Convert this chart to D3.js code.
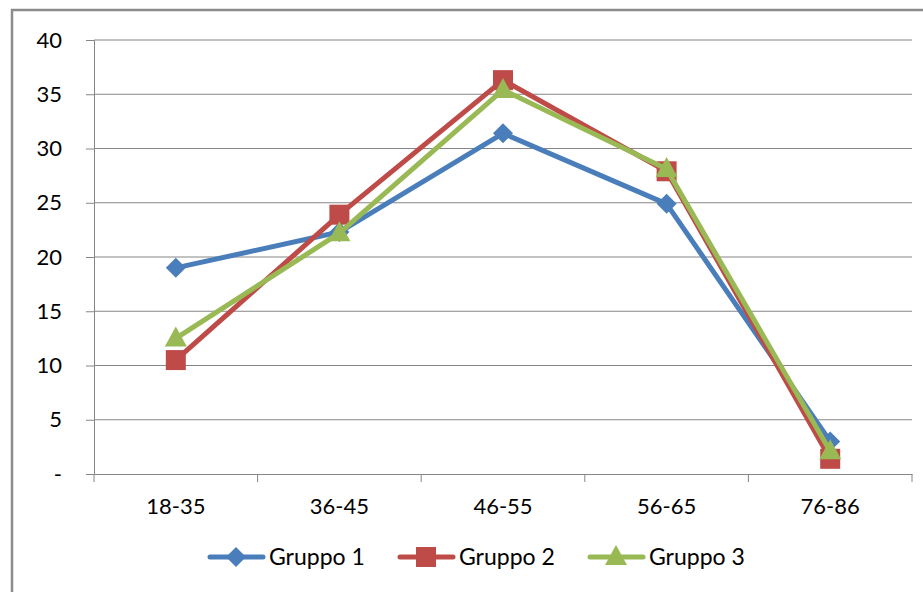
<!DOCTYPE html>
<meta charset="utf-8">
<html>
<head>
<script src="https://d3js.org/d3.v7.min.js"></script>
<style>
  body { margin: 0; background: #fff; }
  text { font-family: Lato, "Noto Sans", sans-serif; fill: #000; }
</style>
</head>
<body>
<div id="chart"></div>
<script>
// data
const ageGroups = ["18-35", "36-45", "46-55", "56-65", "76-86"];
const gruppo1 = [19.0, 22.3, 31.4, 24.9, 3.0];
const gruppo2 = [10.5, 23.9, 36.3, 27.9, 1.4];
const gruppo3 = [12.5, 22.2, 35.4, 28.1, 2.1];
const seriesNames = ["Gruppo 1", "Gruppo 2", "Gruppo 3"];
const yTicks = [0, 5, 10, 15, 20, 25, 30, 35, 40];

const W = 923, H = 592;
const colors = ["#4a7ebb", "#be4b48", "#98b954"];
const shapes = ["diamond", "square", "triangle"];

const svg = d3.select("#chart").append("svg")
  .attr("width", W).attr("height", H);

// outer frame (cut off at right/bottom like the original)
svg.append("rect")
  .attr("x", 12).attr("y", 10)
  .attr("width", 940).attr("height", 620)
  .attr("fill", "none").attr("stroke", "#8c8c8c").attr("stroke-width", 2.5);

const plotLeft = 94, plotRight = 912, plotTop = 40, plotBottom = 474;

const x = d3.scaleBand().domain(ageGroups).range([plotLeft, plotRight]);
const y = d3.scaleLinear().domain([0, 40]).range([plotBottom, plotTop]);

// horizontal gridlines + left ticks
const yAxis = svg.append("g")
  .attr("transform", "translate(" + plotLeft + ",0)")
  .call(d3.axisLeft(y).tickValues(yTicks).tickSize(8)
    .tickFormat(d => d === 0 ? "-" : d));
yAxis.select(".domain").attr("stroke", "#868686");
yAxis.selectAll(".tick line").attr("stroke", "#868686");
yAxis.selectAll(".tick text").attr("x", -32).style("font-size", "22px")
  .style("font-family", "Lato, 'Noto Sans', sans-serif");

svg.append("g").selectAll("line")
  .data(yTicks.filter(d => d > 0))
  .enter().append("line")
  .attr("x1", plotLeft).attr("x2", plotRight)
  .attr("y1", d => y(d)).attr("y2", d => y(d))
  .attr("stroke", "#868686").attr("stroke-width", 1);

// x axis
const xAxis = svg.append("g")
  .attr("transform", "translate(0," + plotBottom + ")")
  .call(d3.axisBottom(x).tickSize(0).tickPadding(24));
xAxis.select(".domain").attr("stroke", "#868686");
xAxis.selectAll(".tick text").style("font-size", "22px")
  .style("font-family", "Lato, 'Noto Sans', sans-serif");
// category separator ticks
svg.append("g").selectAll("line")
  .data(d3.range(ageGroups.length + 1))
  .enter().append("line")
  .attr("x1", i => plotLeft + i * x.bandwidth()).attr("x2", i => plotLeft + i * x.bandwidth())
  .attr("y1", plotBottom).attr("y2", plotBottom + 8)
  .attr("stroke", "#868686");

const allSeries = [gruppo1, gruppo2, gruppo3];

function marker(g, shape, color) {
  if (shape === "diamond") {
    g.append("path").attr("d", "M0,-10 L10,0 L0,10 L-10,0 Z").attr("fill", color);
  } else if (shape === "square") {
    g.append("rect").attr("x", -10).attr("y", -10).attr("width", 20).attr("height", 20).attr("fill", color);
  } else {
    g.append("path").attr("d", "M0,-12 L11,8 L-11,8 Z").attr("fill", color);
  }
}

const line = d3.line()
  .x((d, i) => x(ageGroups[i]) + x.bandwidth() / 2)
  .y(d => y(d));

allSeries.forEach((vals, s) => {
  svg.append("path")
    .datum(vals)
    .attr("d", line)
    .attr("fill", "none")
    .attr("stroke", colors[s])
    .attr("stroke-width", 5)
    .attr("stroke-linejoin", "round");
  vals.forEach((v, i) => {
    const g = svg.append("g")
      .attr("transform", "translate(" + (x(ageGroups[i]) + x.bandwidth() / 2) + "," + y(v) + ")");
    marker(g, shapes[s], colors[s]);
  });
});

// legend
const legendX = [210, 400, 590];
seriesNames.forEach((name, s) => {
  const lg = svg.append("g").attr("transform", "translate(" + legendX[s] + ",557)");
  lg.append("line").attr("x1", 0).attr("x2", 53).attr("y1", 0).attr("y2", 0)
    .attr("stroke", colors[s]).attr("stroke-width", 5).attr("stroke-linecap", "round");
  const m = lg.append("g").attr("transform", "translate(26,0)");
  marker(m, shapes[s], colors[s]);
  lg.append("text").attr("x", 59).attr("y", 0).attr("dy", "0.36em")
    .style("font-size", "23px").text(name);
});
</script>
</body>
</html>
